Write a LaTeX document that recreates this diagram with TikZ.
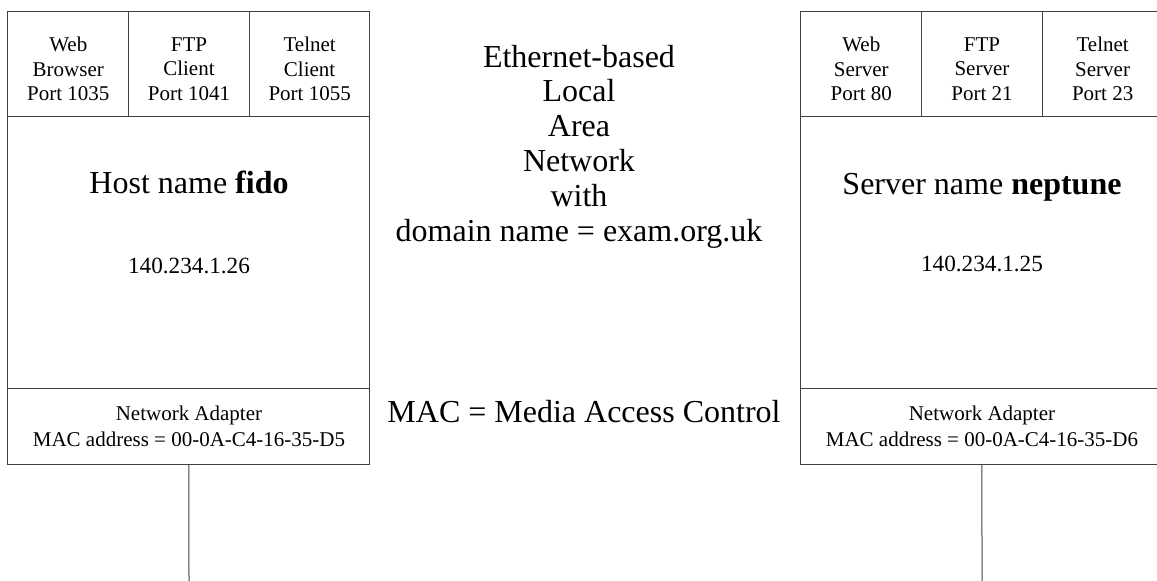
\documentclass[tikz,border=0pt]{standalone}
\usepackage{fontspec}
\setmainfont{Liberation Serif}
\usetikzlibrary{positioning}

\tikzset{
  part/.style={draw=black!75, line width=0.75pt, inner sep=0pt, outer sep=0pt, align=center},
  cell/.style={part, minimum width=90.5pt, minimum height=78.75pt},
  celltext/.style={align=center, inner sep=0pt, yshift=-3.45pt,
    font=\fontsize{15.75}{18.4}\selectfont},
  hostbox/.style={part, minimum width=271.5pt, minimum height=203.25pt},
  nicbox/.style={part, minimum width=271.5pt, minimum height=57pt,
    font=\fontsize{15.75}{19.5}\selectfont},
  wire/.style={draw=black!75, line width=0.75pt}
}

\begin{document}
\begin{tikzpicture}[x=0.75pt,y=-0.75pt]
\useasboundingbox (0,0) rectangle (1157,581);

% client host
\node[cell] (fidoWeb) at (68.3,64.5) {};
\node[cell, right=0pt of fidoWeb] (fidoFTP) {};
\node[cell, right=0pt of fidoFTP] (fidoTel) {};
\node[hostbox, below=0pt of fidoFTP] (fidoHost) {};
\node[nicbox, below=0pt of fidoHost] (fidoNIC) {Network Adapter\\MAC address = 00-0A-C4-16-35-D5};

\node[celltext] (fidoWebTxt) at (fidoWeb) {Web\\Browser\\Port 1035};
\node[celltext] (fidoFTPTxt) at (fidoFTP) {FTP\\Client\\Port 1041};
\node[celltext] (fidoTelTxt) at (fidoTel) {Telnet\\Client\\Port 1055};

\node[anchor=base, font=\fontsize{24}{26}\selectfont] (fidoName) at (189,194) {Host name \textbf{fido}};
\node[anchor=base, font=\fontsize{17.4}{20}\selectfont] (fidoIP) at (189,273) {140.234.1.26};

% server
\node[cell] (nepWeb) at (861.3,64.5) {};
\node[cell, right=0pt of nepWeb] (nepFTP) {};
\node[cell, right=0pt of nepFTP] (nepTel) {};
\node[hostbox, below=0pt of nepFTP] (nepHost) {};
\node[nicbox, below=0pt of nepHost] (nepNIC) {Network Adapter\\MAC address = 00-0A-C4-16-35-D6};

\node[celltext] (nepWebTxt) at (nepWeb) {Web\\Server\\Port 80};
\node[celltext] (nepFTPTxt) at (nepFTP) {FTP\\Server\\Port 21};
\node[celltext] (nepTelTxt) at (nepTel) {Telnet\\Server\\Port 23};

\node[anchor=base, font=\fontsize{24}{26}\selectfont] (nepName) at (982,195) {Server name \textbf{neptune}};
\node[anchor=base, font=\fontsize{17.4}{20}\selectfont] (nepIP) at (982,272) {140.234.1.25};

% network text
\node[align=center, font=\fontsize{24}{26.1}\selectfont] (lan) at (579,146.5)
  {Ethernet-based\\Local\\Area\\Network\\with\\domain name = exam.org.uk};
\node[anchor=base, font=\fontsize{24}{26}\selectfont] (macNote) at (584,422) {MAC = Media Access Control};

% cables
\coordinate (fidoEnd) at (189,585);
\coordinate (nepEnd) at (982,585);
\draw[wire] (fidoNIC) -- (fidoEnd);
\draw[wire] (nepNIC) -- (nepEnd);

\end{tikzpicture}
\end{document}
